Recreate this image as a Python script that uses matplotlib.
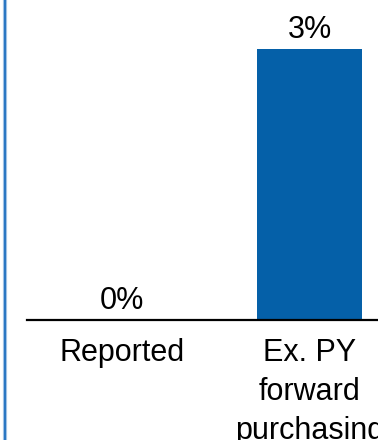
import matplotlib
matplotlib.use("Agg")
import matplotlib.pyplot as plt
from matplotlib.lines import Line2D

plt.rcParams['font.family'] = ['Liberation Sans', 'DejaVu Sans']

categories = ['Reported', 'Ex. PY\nforward\npurchasing']
values = [0, 3]
value_labels = ['0%', '3%']

W, H = 378, 440
fig = plt.figure(figsize=(W / 100, H / 100), dpi=100)

# axes: baseline at y=320px, left end at x=27px, running off the right edge
ax = fig.add_axes([27 / W, (H - 320) / H, (W - 27) / W, 320 / H])
x = list(range(len(categories)))
ax.bar(x, values, width=0.558, color='#0560a8')
ax.set_xlim(-0.505, 1.362)
ax.set_ylim(0, 3.54)

for xi, v, lab in zip(x, values, value_labels):
    ax.annotate(lab, (xi, v), xytext=(0, 3), textcoords='offset points',
                ha='center', va='bottom', fontsize=22, annotation_clip=False)

for side in ['top', 'right', 'left']:
    ax.spines[side].set_visible(False)
ax.spines['bottom'].set_linewidth(1.6)
ax.set_yticks([])
ax.set_xticks(x)
ax.set_xticklabels(categories, fontsize=22, linespacing=1.38)
ax.tick_params(axis='x', length=0, pad=13)

# thin blue frame edge on the left
fig.add_artist(Line2D([4.5 / W, 4.5 / W], [0, 1], transform=fig.transFigure,
                      color='#9fc2e6', lw=3.0))
fig.add_artist(Line2D([4.5 / W, 4.5 / W], [0, 1], transform=fig.transFigure,
                      color='#1f6fc0', lw=1.3))

fig.savefig('out.png', dpi=100)
